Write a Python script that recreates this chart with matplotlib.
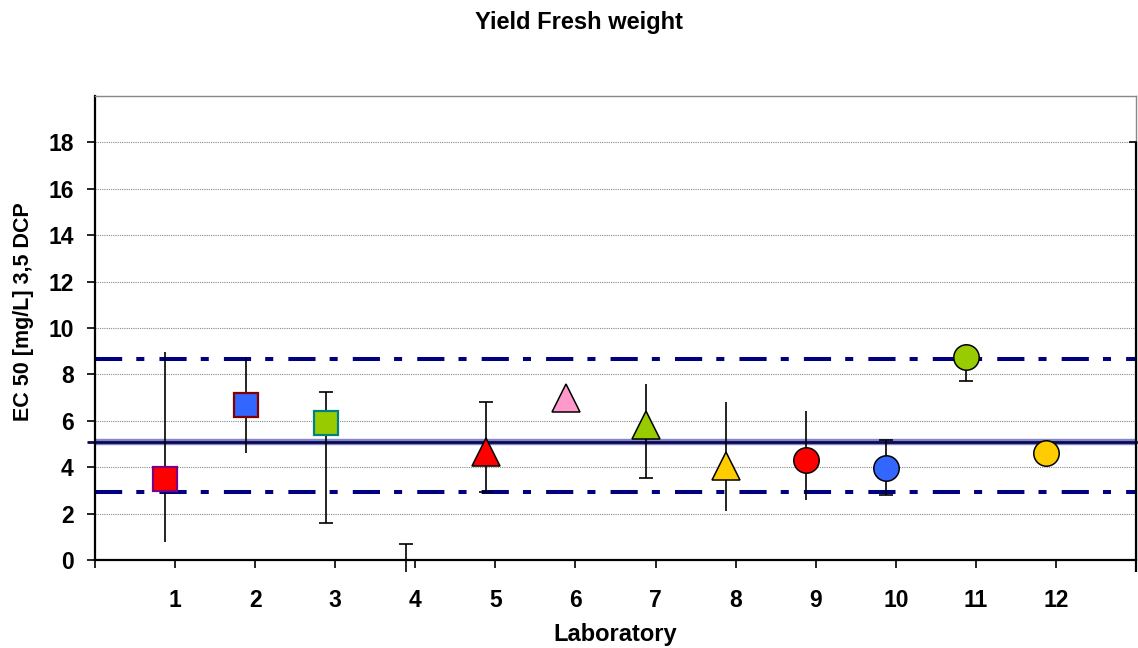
import numpy as np
import matplotlib
matplotlib.use("Agg")
import matplotlib.pyplot as plt

plt.rcParams["font.family"] = ["Liberation Sans", "DejaVu Sans"]
plt.rcParams["font.weight"] = "bold"

# ---- data -------------------------------------------------------------
labs = [1, 2, 3, 4, 5, 6, 7, 8, 9, 10, 11, 12]
ec50 = [3.50, 6.70, 5.90, np.nan, 4.67, 7.00, 5.80, 4.05, 4.31, 3.98, 8.77, 4.62]
ci_low = [0.76, 4.60, 1.58, -0.53, 2.95, np.nan, 3.52, 2.11, 2.59, 2.81, 7.73, np.nan]
ci_high = [8.97, 8.72, 7.25, 0.71, 6.80, np.nan, 7.59, 6.81, 6.41, 5.18, np.nan, np.nan]
cap_low = [False, False, True, False, True, False, True, False, False, True, True, False]
cap_high = [False, False, True, True, True, False, False, False, False, True, False, False]

# pooled range drawn on the right edge
pooled_x = 13
pooled_low, pooled_high = -0.53, 18.0

mean_ec50 = 5.07
upper_limit = 8.65
lower_limit = 2.91

markers = ["s", "s", "s", None, "^", "^", "^", "^", "o", "o", "o", "o"]
faces = ["#FF0000", "#3366FF", "#99CC00", None, "#FF0000", "#FF99CC",
         "#99CC00", "#FFCC00", "#FF0000", "#3366FF", "#99CC00", "#FFCC00"]
edges = ["#800080", "#800000", "#008080", None, "black", "black",
         "black", "black", "black", "black", "black", "black"]
sizes = {"s": 17.3, "^": 19.5, "o": 18.3}

title = "Yield Fresh weight"
xlabel = "Laboratory"
ylabel = "EC 50 [mg/L] 3,5 DCP"

# ---- figure -----------------------------------------------------------
W, H = 1138, 648
fig = plt.figure(figsize=(W / 100, H / 100), dpi=100)
ax = fig.add_axes([95 / W, 1 - 560 / H, 1041 / W, 464 / H])

ax.set_xlim(0, 13)
ax.set_ylim(0, 20)

# grid
ax.set_yticks(np.arange(0, 19, 2))
ax.yaxis.grid(True, linestyle=(0, (1, 1)), linewidth=0.8, color="#888888", zorder=0)
ax.set_axisbelow(True)

ax.set_xticks(np.arange(0, 14))
ax.set_xticklabels([""] + [str(v) for v in labs] + [""])

ax.tick_params(axis="x", direction="out", length=5.8, width=1.2, pad=15.0,
               labelsize=16.5)
ax.tick_params(axis="y", direction="out", length=5.8, width=1.2, pad=9.5,
               labelsize=16.5)
for lab in ax.get_xticklabels() + ax.get_yticklabels():
    lab.set_fontweight("bold")

for side in ("left", "bottom"):
    ax.spines[side].set_color("black")
    ax.spines[side].set_linewidth(1.6)
for side in ("top", "right"):
    ax.spines[side].set_color("#888888")
    ax.spines[side].set_linewidth(1.0)

# reference levels
dash = (0, (6.75, 3.5, 2.0, 3.75))
for lvl in (upper_limit, lower_limit):
    ax.plot([0, 13], [lvl, lvl], color="#000080", linewidth=2.9,
            linestyle=dash, zorder=2)
ax.plot([0, 13], [mean_ec50, mean_ec50], color="#8585CC", linewidth=4.6,
        solid_capstyle="butt", zorder=2)
ax.plot([-0.1, 13.02], [mean_ec50, mean_ec50], color="#0A0A50", linewidth=2.0,
        solid_capstyle="butt", zorder=2.1, clip_on=False)

# error bars
xoff = -0.12
cap_ms = 9.4
for i, lab in enumerate(labs):
    x = lab + xoff
    lo, hi, v = ci_low[i], ci_high[i], ec50[i]
    top = hi if not np.isnan(hi) else v
    bot = lo if not np.isnan(lo) else v
    if not (np.isnan(top) or np.isnan(bot)):
        ax.vlines(x, bot, top, colors="black", linewidth=1.2, zorder=3,
                  clip_on=False)
    if cap_low[i] and not np.isnan(lo):
        ax.plot([x], [lo], marker="_", color="black", markersize=cap_ms,
                markeredgewidth=1.2, zorder=3, clip_on=False)
    if cap_high[i] and not np.isnan(hi):
        ax.plot([x], [hi], marker="_", color="black", markersize=cap_ms,
                markeredgewidth=1.2, zorder=3, clip_on=False)

ax.vlines(pooled_x, pooled_low, pooled_high, colors="black", linewidth=1.6,
          zorder=3, clip_on=False)
ax.plot([pooled_x], [pooled_high], marker="_", color="black",
        markersize=cap_ms, markeredgewidth=1.2, zorder=3)

# lab results
for i, lab in enumerate(labs):
    if markers[i] is None or np.isnan(ec50[i]):
        continue
    m = markers[i]
    ax.plot([lab + xoff], [ec50[i]], linestyle="none", marker=m,
            markersize=sizes[m], markerfacecolor=faces[i],
            markeredgecolor=edges[i],
            markeredgewidth=1.6 if m == "s" else 1.1, zorder=4, clip_on=False)

# labels
fig.text(579 / W, 1 - 29.5 / H, title, ha="center", va="baseline",
         fontsize=17, fontweight="bold")
ax.set_xlabel(xlabel, fontsize=17, fontweight="bold", va="baseline")
ax.xaxis.set_label_coords(0.5, -(641 - 560) / 464)
ax.set_ylabel(ylabel, fontsize=15.5, fontweight="bold", va="center",
              ha="center")
ax.yaxis.set_label_coords((24 - 95) / 1041, (560 - 311.5) / 464)

fig.savefig("out.png", dpi=100)
